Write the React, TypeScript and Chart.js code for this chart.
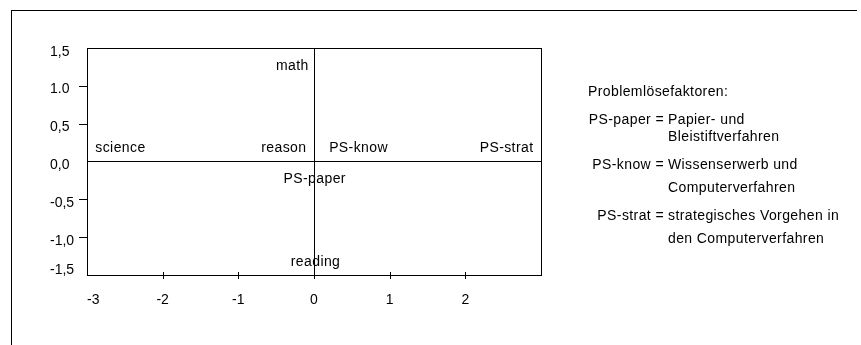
import React, { useEffect, useRef } from 'react';
import { Chart, registerables } from 'chart.js';

Chart.register(...registerables);

// ---- data ----
const variableNames = ['math', 'science', 'reason', 'PS-know', 'PS-strat', 'PS-paper', 'reading'];
const dimension1 = [-0.07, -2.89, -0.1, 0.2, 2.9, 0.01, 0.02];
const dimension2 = [1.26, 0.17, 0.17, 0.17, 0.17, -0.23, -1.33];
const labelAlign = ['right', 'left', 'right', 'left', 'right', 'center', 'center'];

const xTickValues = [-3, -2, -1, 0, 1, 2, 3];
const xTickLabels = ['-3', '-2', '-1', '0', '1', '2', ''];
const xTickMarks = [-2, -1, 0, 1, 2];
const yTickValues = [1.5, 1, 0.5, 0, -0.5, -1, -1.5];
const yTickLabels = ['1,5', '1.0', '0,5', '0,0', '-0,5', '-1,0', '-1,5'];
const yTickMarks = [1, 0.5, -0.5, -1];

const legendTitle = 'Problemlösefaktoren:';
const legendKeys = ['PS-paper =', 'PS-know =', 'PS-strat ='];
const legendLines = [
  ['Papier- und', 'Bleistiftverfahren'],
  ['Wissenserwerb und', 'Computerverfahren'],
  ['strategisches Vorgehen in', 'den Computerverfahren'],
];

const FONT = '"Liberation Sans", Arial, Helvetica, sans-serif';
const W = 861;
const H = 345;

const overlayPlugin = {
  id: 'overlay',
  beforeDraw(chart: any) {
    const ctx = chart.ctx;
    ctx.save();
    ctx.fillStyle = '#ffffff';
    ctx.fillRect(0, 0, W, H);
    // outer frame (top and left)
    ctx.strokeStyle = '#000000';
    ctx.lineWidth = 1;
    ctx.beginPath();
    ctx.moveTo(11, 10.5);
    ctx.lineTo(857, 10.5);
    ctx.moveTo(11.5, 10);
    ctx.lineTo(11.5, H);
    ctx.stroke();
    ctx.restore();
  },
  afterDraw(chart: any) {
    const ctx = chart.ctx;
    const area = chart.chartArea;
    const xs = chart.scales.x;
    const ys = chart.scales.y;
    ctx.save();
    ctx.strokeStyle = '#000000';
    ctx.lineWidth = 1;
    // plot box
    ctx.strokeRect(area.left + 0.5, area.top + 0.5, area.right - area.left, area.bottom - area.top);
    // x tick marks (crossing the axis)
    ctx.beginPath();
    xTickMarks.forEach((v) => {
      const px = Math.round(xs.getPixelForValue(v)) + 0.5;
      ctx.moveTo(px, area.bottom - 3);
      ctx.lineTo(px, area.bottom + 4);
    });
    // y tick marks (outside)
    yTickMarks.forEach((v) => {
      const py = Math.round(ys.getPixelForValue(v)) + 0.5;
      ctx.moveTo(area.left - 8, py);
      ctx.lineTo(area.left, py);
    });
    ctx.stroke();

    ctx.fillStyle = '#000000';
    ctx.font = '14px ' + FONT;
    ctx.textBaseline = 'middle';
    // y tick labels (left aligned)
    ctx.textAlign = 'left';
    yTickValues.forEach((v, i) => {
      const off = i === 0 ? 4.5 : i === yTickValues.length - 1 ? -4.5 : 3.5;
      ctx.fillText(yTickLabels[i], 50, ys.getPixelForValue(v) + off);
    });

    (ctx as any).letterSpacing = '0.4px';
    // point labels
    const meta = chart.getDatasetMeta(0);
    meta.data.forEach((pt: any, i: number) => {
      ctx.textAlign = labelAlign[i];
      ctx.fillText(variableNames[i], pt.x, pt.y);
    });

    // legend text block
    ctx.textAlign = 'left';
    ctx.fillText(legendTitle, 588, 92);
    const rowY = [[120, 137], [165, 188], [216.5, 239]];
    legendKeys.forEach((k, i) => {
      ctx.textAlign = 'right';
      ctx.fillText(k, 664, rowY[i][0]);
      ctx.textAlign = 'left';
      ctx.fillText(legendLines[i][0], 668, rowY[i][0]);
      ctx.fillText(legendLines[i][1], 668, rowY[i][1]);
    });
    (ctx as any).letterSpacing = '0px';
    ctx.restore();
  },
};

export default function App() {
  const canvasRef = useRef<HTMLCanvasElement | null>(null);

  useEffect(() => {
    document.body.style.margin = '0';
    const canvas = canvasRef.current;
    if (!canvas) return;
    const chart = new Chart(canvas, {
      type: 'scatter',
      data: {
        datasets: [
          {
            data: variableNames.map((_, i) => ({ x: dimension1[i], y: dimension2[i] })),
            pointRadius: 0,
            pointHoverRadius: 0,
            showLine: false,
          },
        ],
      },
      options: {
        animation: false,
        responsive: false,
        devicePixelRatio: 1,
        events: [],
        layout: { padding: { top: 48, right: W - 541, bottom: 0, left: 0 } },
        plugins: { legend: { display: false }, tooltip: { enabled: false } },
        scales: {
          x: {
            type: 'linear',
            min: -3,
            max: 3,
            afterFit: (s: any) => {
              s.height = 70;
            },
            afterBuildTicks: (s: any) => {
              s.ticks = xTickValues.map((v) => ({ value: v }));
            },
            border: { display: false },
            grid: {
              drawTicks: false,
              lineWidth: 1,
              color: (c: any) => (c.tick && c.tick.value === 0 ? '#000000' : 'rgba(0,0,0,0)'),
            },
            ticks: {
              align: 'inner',
              padding: 17,
              maxRotation: 0,
              autoSkip: false,
              color: '#000000',
              font: { family: FONT, size: 14 },
              callback: (v: any) => {
                const idx = xTickValues.indexOf(Number(v));
                return idx >= 0 ? xTickLabels[idx] : '';
              },
            },
          },
          y: {
            type: 'linear',
            min: -1.5,
            max: 1.5,
            afterFit: (s: any) => {
              s.width = 87;
            },
            afterBuildTicks: (s: any) => {
              s.ticks = yTickValues.map((v) => ({ value: v }));
            },
            border: { display: false },
            grid: {
              drawTicks: false,
              lineWidth: 1,
              color: (c: any) => (c.tick && c.tick.value === 0 ? '#000000' : 'rgba(0,0,0,0)'),
            },
            ticks: { display: false },
          },
        },
      },
      plugins: [overlayPlugin],
    } as any);
    return () => chart.destroy();
  }, []);

  return (
    <div style={{ position: 'absolute', left: 0, top: 0, width: W, height: H }}>
      <canvas ref={canvasRef} width={W} height={H} style={{ display: 'block', width: W, height: H }} />
    </div>
  );
}
